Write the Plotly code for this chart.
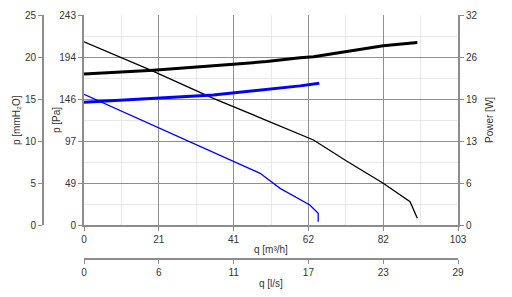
import plotly.graph_objects as go

# ---- data ----
q_big_p = [0, 18.2, 35.6, 50.0, 63.2, 72.3, 82.4, 89.8, 91.8]
p_big = [212, 179.4, 146.6, 121.0, 98.4, 74.0, 48.3, 27.0, 7.7]

q_big_w = [0, 19.1, 41.1, 50.3, 59.5, 63.2, 82.4, 91.8]
w_big = [23.0, 23.6, 24.5, 24.9, 25.5, 25.65, 27.3, 27.8]

q_small_p = [0, 20.9, 41.1, 48.5, 54.0, 58.1, 62.2, 64.5, 64.5]
p_small = [151.3, 111.9, 73.3, 59.8, 42.4, 32.8, 23.1, 13.5, 3.8]

q_small_w = [0, 20.0, 35.6, 59.5, 64.8]
w_small = [18.7, 19.3, 19.8, 21.2, 21.6]

q_max = 103.0
pa_max = 243.0
mm_max = 25.0
w_max = 32.0

q_ticks = ["0", "21", "41", "62", "82", "103"]
ls_ticks = ["0", "6", "11", "17", "23", "29"]
pa_ticks = ["0", "49", "97", "146", "194", "243"]
mm_ticks = ["0", "5", "10", "15", "20", "25"]
w_ticks = ["0", "6", "13", "19", "26", "32"]

# ---- layout geometry ----
W, H = 512, 297
L, R, T, B = 84, 458, 15, 225
xd = [L / W, R / W]
yd = [(H - B) / H, (H - T) / H]

FONT = "Liberation Sans, Arial, sans-serif"
TXT = "#333333"
AX = "#8c8c8c"
GMAJ = "#8f8f8f"
GMIN = "#e8e8e8"

qv = [q_max * i / 5 for i in range(6)]
qm = [q_max * (i + 0.5) / 5 for i in range(5)]
pv = [pa_max * i / 5 for i in range(6)]
pm = [pa_max * (i + 0.5) / 5 for i in range(5)]
wv = [w_max * i / 5 for i in range(6)]
mv = [mm_max * i / 5 for i in range(6)]
lsv = [v / 3.6 for v in qv]

fig = go.Figure()
fig.add_trace(go.Scatter(x=q_big_p, y=p_big, mode="lines", line=dict(color="black", width=1.3), xaxis="x", yaxis="y"))
fig.add_trace(go.Scatter(x=q_small_p, y=p_small, mode="lines", line=dict(color="#0000ff", width=1.3), xaxis="x", yaxis="y"))
fig.add_trace(go.Scatter(x=q_big_w, y=w_big, mode="lines", line=dict(color="black", width=3), xaxis="x", yaxis="y3"))
fig.add_trace(go.Scatter(x=q_small_w, y=w_small, mode="lines", line=dict(color="#0000ff", width=3), xaxis="x", yaxis="y3"))
# invisible trace so the secondary scales (l/s and mmH2O) are drawn
fig.add_trace(go.Scatter(x=[None], y=[None], mode="lines", xaxis="x2", yaxis="y2", hoverinfo="skip"))

tickfont = dict(family=FONT, size=10, color=TXT)

fig.update_layout(
    width=W, height=H,
    margin=dict(l=0, r=0, t=0, b=0, autoexpand=False),
    paper_bgcolor="white", plot_bgcolor="white",
    showlegend=False,
    font=dict(family=FONT, size=10, color=TXT),
    xaxis=dict(domain=xd, range=[0, q_max], anchor="y", automargin=False,
               tickmode="array", tickvals=qv, ticktext=q_ticks,
               showgrid=True, gridcolor=GMAJ, gridwidth=1,
               minor=dict(tickmode="array", tickvals=qm, showgrid=True, gridcolor=GMIN, ticks=""),
               ticks="outside", ticklen=4, tickcolor=AX,
               showline=True, linecolor=AX, linewidth=2,
               zeroline=False, tickfont=tickfont),
    yaxis=dict(domain=yd, range=[0, pa_max], anchor="x", automargin=False,
               tickmode="array", tickvals=pv, ticktext=pa_ticks,
               showgrid=True, gridcolor=GMAJ, gridwidth=1,
               minor=dict(tickmode="array", tickvals=pm, showgrid=True, gridcolor=GMIN, ticks=""),
               ticks="outside", ticklen=4, tickcolor=AX,
               showline=True, linecolor=AX, linewidth=2,
               zeroline=False, tickfont=tickfont),
    yaxis2=dict(overlaying="y", anchor="free", position=43 / W, side="left", automargin=False,
                range=[0, mm_max], tickmode="array", tickvals=mv, ticktext=mm_ticks,
                showgrid=False, zeroline=False,
                ticks="outside", ticklen=4, tickcolor=AX,
                showline=True, linecolor=AX, linewidth=2, tickfont=tickfont),
    yaxis3=dict(overlaying="y", anchor="x", side="right", automargin=False,
                range=[0, w_max], tickmode="array", tickvals=wv, ticktext=w_ticks,
                showgrid=False, zeroline=False,
                ticks="outside", ticklen=4, tickcolor=AX,
                showline=True, linecolor=AX, linewidth=2, tickfont=tickfont),
    xaxis2=dict(overlaying="x", anchor="free", position=(H - 259) / H, side="bottom", automargin=False,
                range=[0, q_max / 3.6], tickmode="array", tickvals=lsv, ticktext=ls_ticks,
                showgrid=False, zeroline=False,
                ticks="outside", ticklen=4, tickcolor=AX,
                showline=True, linecolor=AX, linewidth=1.5, tickfont=tickfont),
)

def ann(text, px, py, angle=0):
    fig.add_annotation(text=text, x=px / W, y=1 - py / H, xref="paper", yref="paper",
                       showarrow=False, textangle=angle, xanchor="center", yanchor="middle",
                       font=dict(family=FONT, size=10, color=TXT))

ann("q [m³/h]", (L + R) / 2, 249)
ann("q [l/s]", (L + R) / 2, 283)
ann("p [mmH₂O]", 17, (T + B) / 2, -90)
ann("p [Pa]", 57, (T + B) / 2, -90)
ann("Power [W]", 490, (T + B) / 2, -90)

fig.write_html("out.html")
